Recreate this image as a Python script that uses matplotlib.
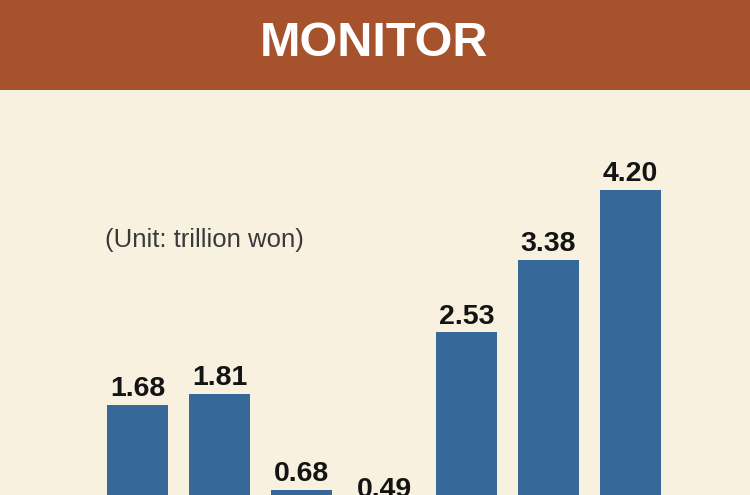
import matplotlib
matplotlib.use("Agg")
import matplotlib.pyplot as plt
from matplotlib.patches import Rectangle

categories = ["A", "B", "C", "D", "E", "F", "G"]
values = [1.68, 1.81, 0.68, 0.49, 2.53, 3.38, 4.20]
labels = ["1.68", "1.81", "0.68", "0.49", "2.53", "3.38", "4.20"]
title = "MONITOR"
unit_text = "(Unit: trillion won)"

BG = "#F8F1E0"
BANNER = "#A5522D"
BAR = "#36699A"

W, H = 750, 495
fig = plt.figure(figsize=(W / 100, H / 100), dpi=100, facecolor=BG)
ax = fig.add_axes([0, 0, 1, 1])
ax.set_facecolor(BG)

pitch = 82.2
c0 = 137.5
px_per_unit = 85.2
base_px = 548.0

x = list(range(len(categories)))
ax.bar(x, values, width=61 / pitch, color=BAR, zorder=2)
ax.set_xlim(-c0 / pitch, (W - c0) / pitch)
ax.set_ylim((base_px - H) / px_per_unit, base_px / px_per_unit)
ax.axis("off")

for xi, v, lab in zip(x, values, labels):
    ax.annotate(lab, (xi, v), xytext=(0, 2), textcoords="offset points",
                ha="center", va="bottom", fontsize=20.5, fontweight="bold",
                family=["Liberation Sans", "DejaVu Sans"], color="#141414",
                annotation_clip=False, zorder=3)

fig.text(105 / W, 1 - 240 / H, unit_text, ha="left", va="center",
         fontsize=18.5, color="#3A3A3A", family=["Liberation Sans", "DejaVu Sans"])

fig.patches.append(Rectangle((0, 1 - 90 / H), 1, 90 / H, transform=fig.transFigure,
                             facecolor=BANNER, edgecolor="none", zorder=5))
fig.text(0.5 * (270 + 477) / W, 1 - 44 / H, title, ha="center", va="center",
         fontsize=35, fontweight="bold", color="white", zorder=6,
         family=["Liberation Sans", "DejaVu Sans"])

fig.savefig("out.png", dpi=100, facecolor=BG)
